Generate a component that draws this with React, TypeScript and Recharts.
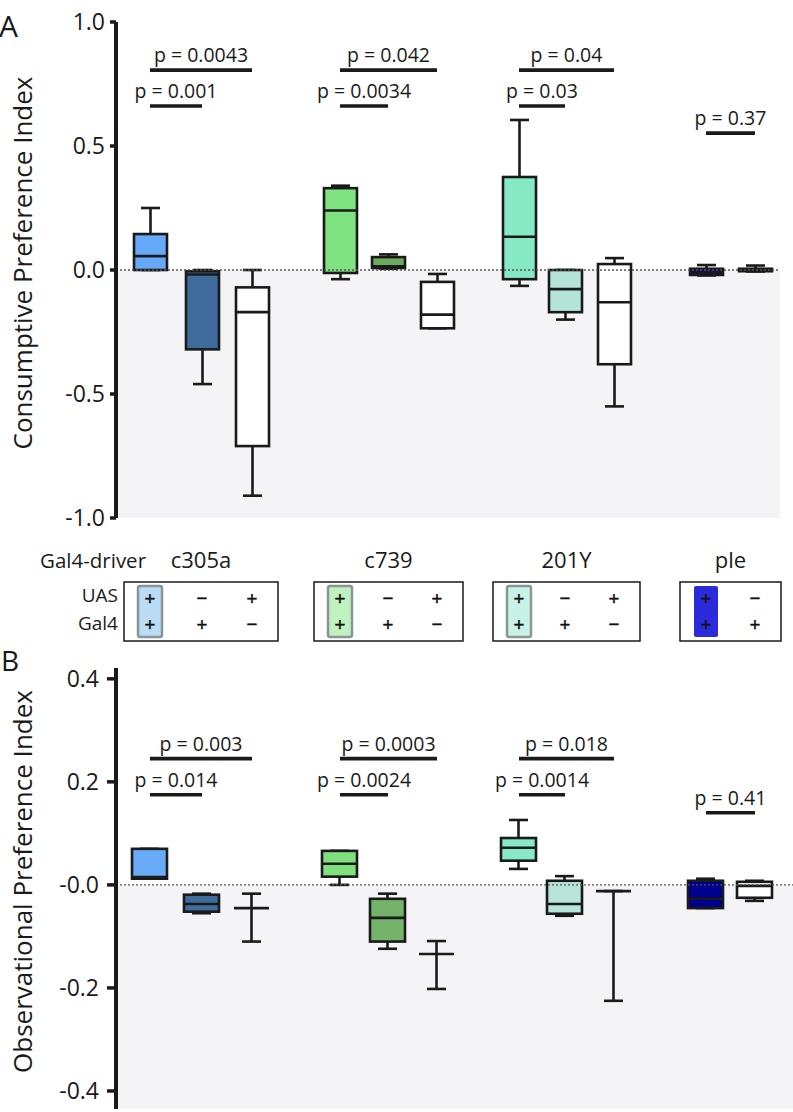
import React from 'react';
import { ComposedChart, Bar, XAxis, YAxis, ReferenceLine, ReferenceArea } from 'recharts';

// ---- categories / layout of genotypes ----
const drivers = ['c305a', 'c739', '201Y', 'ple'];
const boxPositions = [0.68, 1.72, 2.72, 4.48, 5.44, 6.42, 8.06, 8.98, 9.96, 11.8, 12.78];
const boxDriver = [0, 0, 0, 1, 1, 1, 2, 2, 2, 3, 3];
const uasRow = ['+', '−', '+', '+', '−', '+', '+', '−', '+', '+', '−'];
const gal4Row = ['+', '+', '−', '+', '+', '−', '+', '+', '−', '+', '+'];
const highlightFill = ['#bcdcf6', '#bff2bf', '#c8f2e5', '#2b2bdc'];

// ---- Panel A: Consumptive Preference Index ----
const consumptiveMin = [0.0, -0.46, -0.91, -0.037, 0.005, -0.235, -0.064, -0.2, -0.55, -0.022, -0.006];
const consumptiveQ1 = [0.0, -0.32, -0.71, -0.012, 0.008, -0.235, -0.037, -0.17, -0.38, -0.02, -0.005];
const consumptiveMedian = [0.056, -0.018, -0.17, 0.24, 0.015, -0.18, 0.134, -0.077, -0.13, -0.01, 0.0];
const consumptiveQ3 = [0.145, -0.005, -0.07, 0.33, 0.052, -0.048, 0.375, 0.0, 0.024, 0.005, 0.005];
const consumptiveMax = [0.25, 0.0, 0.0, 0.34, 0.063, -0.016, 0.605, 0.0, 0.048, 0.02, 0.018];
const consumptiveFill = ['#66a9f8', '#3e6b9c', '#ffffff', '#7fe37f', '#6dab5e', '#ffffff', '#86e9c6', '#b5e5d7', '#ffffff', '#0a0a8c', '#ffffff'];
const consumptiveTicks = [-1, -0.5, 0, 0.5, 1];
const consumptiveSig = [
  { from: 0, to: 2, level: 0.806, label: 'p = 0.0043' },
  { from: 0, to: 1, level: 0.661, label: 'p = 0.001' },
  { from: 3, to: 5, level: 0.806, label: 'p = 0.042' },
  { from: 3, to: 4, level: 0.661, label: 'p = 0.0034' },
  { from: 6, to: 8, level: 0.806, label: 'p = 0.04' },
  { from: 6, to: 7, level: 0.661, label: 'p = 0.03' },
  { from: 9, to: 10, level: 0.552, label: 'p = 0.37' },
];

// ---- Panel B: Observational Preference Index ----
const observationalMin = [0.012, -0.055, -0.11, 0.0, -0.124, -0.202, 0.031, -0.06, -0.225, -0.045, -0.031];
const observationalQ1 = [0.012, -0.052, -0.045, 0.016, -0.11, -0.134, 0.047, -0.056, -0.012, -0.045, -0.025];
const observationalMedian = [0.015, -0.037, -0.045, 0.041, -0.064, -0.134, 0.072, -0.037, -0.012, -0.027, -0.002];
const observationalQ3 = [0.07, -0.019, -0.045, 0.066, -0.027, -0.134, 0.091, 0.008, -0.012, 0.008, 0.006];
const observationalMax = [0.07, -0.017, -0.017, 0.066, -0.017, -0.109, 0.126, 0.017, -0.012, 0.012, 0.008];
const observationalFill = ['#6aabf7', '#3f6c9d', '#ffffff', '#80e080', '#76b36a', '#ffffff', '#87e9c7', '#b7e5d7', '#ffffff', '#00008f', '#ffffff'];
const observationalTicks = [-0.4, -0.2, 0, 0.2, 0.4];
const observationalSig = [
  { from: 0, to: 2, level: 0.245, label: 'p = 0.003' },
  { from: 0, to: 1, level: 0.175, label: 'p = 0.014' },
  { from: 3, to: 5, level: 0.245, label: 'p = 0.0003' },
  { from: 3, to: 4, level: 0.175, label: 'p = 0.0024' },
  { from: 6, to: 8, level: 0.245, label: 'p = 0.018' },
  { from: 6, to: 7, level: 0.175, label: 'p = 0.0014' },
  { from: 9, to: 10, level: 0.14, label: 'p = 0.41' },
];

const FONT = '"Open Sans", Lato, sans-serif';
const INK = '#1a1a1a';

const buildRows = (mins: number[], q1s: number[], meds: number[], q3s: number[], maxs: number[], fills: string[]) =>
  boxPositions.map((pos, i) => ({
    pos,
    range: [mins[i], maxs[i]],
    min: mins[i],
    q1: q1s[i],
    med: meds[i],
    q3: q3s[i],
    max: maxs[i],
    fill: fills[i],
  }));

const rowsA = buildRows(consumptiveMin, consumptiveQ1, consumptiveMedian, consumptiveQ3, consumptiveMax, consumptiveFill);
const rowsB = buildRows(observationalMin, observationalQ1, observationalMedian, observationalQ3, observationalMax, observationalFill);

const BoxGlyph = (props: any) => {
  const { x, y, width, height, payload, boxW, capW } = props;
  if (!payload) return null;
  const { min, max, q1, q3, med, fill } = payload;
  const top = Math.min(y, y + height);
  const bottom = Math.max(y, y + height);
  const px = (v: number) => bottom - ((v - min) / (max - min)) * (bottom - top);
  const cx = x + width / 2;
  const sw = 2.6;
  const collapsed = Math.abs(q3 - q1) < 1e-9;
  return (
    <g>
      <line x1={cx} x2={cx} y1={px(max)} y2={px(min)} stroke={INK} strokeWidth={sw} />
      <line x1={cx - capW / 2} x2={cx + capW / 2} y1={px(max)} y2={px(max)} stroke={INK} strokeWidth={sw} />
      <line x1={cx - capW / 2} x2={cx + capW / 2} y1={px(min)} y2={px(min)} stroke={INK} strokeWidth={sw} />
      {!collapsed && (
        <rect x={cx - boxW / 2} y={px(q3)} width={boxW} height={px(q1) - px(q3)} fill={fill} stroke={INK} strokeWidth={sw} />
      )}
      <line x1={cx - boxW / 2} x2={cx + boxW / 2} y1={px(med)} y2={px(med)} stroke={INK} strokeWidth={sw} />
    </g>
  );
};

const AxisTitle = (props: any) => {
  const { viewBox, text } = props;
  const cy = viewBox.y + viewBox.height / 2 - 7;
  return (
    <text transform={`translate(32, ${cy}) rotate(-90)`} textAnchor="middle" fontSize={26} fontFamily={FONT} fill={INK}>
      {text}
    </text>
  );
};

const SigLabel = (props: any) => {
  const { viewBox, text } = props;
  if (!viewBox) return null;
  const x1 = viewBox.x ?? viewBox.x1;
  const w = viewBox.width ?? (viewBox.x2 - viewBox.x1);
  const yy = viewBox.y ?? viewBox.y1;
  return (
    <text x={x1 + w / 2} y={yy - 8} textAnchor="middle" fontSize={19.5} fontFamily={FONT} fill={INK}>
      {text}
    </text>
  );
};

type PanelProps = {
  rows: any[];
  domain: [number, number];
  xMax: number;
  ticks: number[];
  sig: { from: number; to: number; level: number; label: string }[];
  title: string;
  height: number;
  margin: { top: number; right: number; bottom: number; left: number };
  boxW: number;
  tickSize: number;
  tickMargin: number;
  zeroLabel: string;
};

const Panel = (p: PanelProps) => (
  <ComposedChart width={793} height={p.height} data={p.rows} margin={p.margin}>
    <XAxis
      type="number"
      dataKey="pos"
      domain={[0, p.xMax]}
      allowDataOverflow
      tick={false}
      tickLine={false}
      height={0}
      axisLine={{ stroke: INK, strokeWidth: 4 }}
    />
    <YAxis
      type="number"
      domain={p.domain}
      allowDataOverflow
      ticks={p.ticks}
      interval={0}
      width={116}
      tickSize={p.tickSize}
      tickMargin={p.tickMargin}
      tickFormatter={(v: number) => (Math.abs(v) < 1e-9 ? p.zeroLabel : v.toFixed(1))}
      tick={{ fontSize: 23, fill: INK, fontFamily: FONT }}
      tickLine={{ stroke: INK, strokeWidth: 3.5 }}
      axisLine={{ stroke: INK, strokeWidth: 4 }}
      label={<AxisTitle text={p.title} />}
    />
    <ReferenceArea y1={p.domain[0]} y2={0} fill="#f4f4f7" fillOpacity={1} stroke="none" />
    <ReferenceLine y={0} stroke="#555" strokeDasharray="2 2" strokeWidth={1.3} />
    <Bar
      dataKey="range"
      barSize={p.boxW}
      isAnimationActive={false}
      shape={(sp: any) => <BoxGlyph {...sp} boxW={p.boxW} capW={19} />}
    />
    {p.sig.map((s, i) => (
      <ReferenceLine
        key={i}
        segment={[
          { x: boxPositions[s.from], y: s.level },
          { x: boxPositions[s.to], y: s.level },
        ]}
        stroke={INK}
        strokeWidth={3.6}
        label={<SigLabel text={s.label} />}
      />
    ))}
  </ComposedChart>
);

const colX = (pos: number) => 116 + pos * 50;

const GenotypeTable = () => (
  <svg width={793} height={1112} style={{ position: 'absolute', left: 0, top: 0, pointerEvents: 'none' }}>
    <text x={-1} y={37} fontSize={30} fontFamily={FONT} fill={INK}>A</text>
    <text x={1} y={671} fontSize={28} fontFamily={FONT} fill={INK}>B</text>
    <text x={40} y={568} fontSize={20.5} fontFamily={FONT} fill={INK}>Gal4-driver</text>
    <text x={118} y={602} fontSize={19} fontFamily={FONT} fill={INK} textAnchor="end">UAS</text>
    <text x={118} y={630} fontSize={19} fontFamily={FONT} fill={INK} textAnchor="end">Gal4</text>
    {drivers.map((d, g) => {
      const idx = boxPositions.map((_, i) => i).filter((i) => boxDriver[i] === g);
      const left = colX(boxPositions[idx[0]]) - 26;
      const right = colX(boxPositions[idx[idx.length - 1]]) + 26;
      const fx = colX(boxPositions[idx[0]]);
      return (
        <g key={d}>
          <text x={(left + right) / 2} y={568} fontSize={22} fontFamily={FONT} fill={INK} textAnchor="middle">{d}</text>
          <rect x={left} y={582} width={right - left} height={59} fill="#fff" stroke={INK} strokeWidth={1.5} />
          <rect
            x={fx - 12}
            y={586}
            width={24}
            height={51}
            rx={2}
            fill={highlightFill[g]}
            stroke={g === 3 ? 'none' : '#8a9696'}
            strokeWidth={2.5}
          />
          {idx.map((i) => (
            <g key={i}>
              <text x={colX(boxPositions[i])} y={605} fontSize={19} fontFamily={FONT} fill="#111" stroke="#111" strokeWidth={0.5} textAnchor="middle">{uasRow[i]}</text>
              <text x={colX(boxPositions[i])} y={631} fontSize={19} fontFamily={FONT} fill="#111" stroke="#111" strokeWidth={0.5} textAnchor="middle">{gal4Row[i]}</text>
            </g>
          ))}
        </g>
      );
    })}
  </svg>
);

export default function App() {
  return (
    <div style={{ position: 'absolute', left: 0, top: 0, width: 793, height: 1112, background: '#fff', overflow: 'hidden' }}>
      <div style={{ position: 'absolute', left: 0, top: 0 }}>
        <Panel
          rows={rowsA}
          domain={[-1, 1]}
          xMax={13.28}
          ticks={consumptiveTicks}
          sig={consumptiveSig}
          title="Consumptive Preference Index"
          height={650}
          margin={{ top: 22, right: 13, bottom: 132, left: 0 }}
          boxW={33}
          tickSize={6}
          tickMargin={5}
          zeroLabel="0.0"
        />
      </div>
      <div style={{ position: 'absolute', left: 0, top: 650 }}>
        <Panel
          rows={rowsB}
          domain={[-0.435, 0.421]}
          xMax={13.54}
          ticks={observationalTicks}
          sig={observationalSig}
          title="Observational Preference Index"
          height={462}
          margin={{ top: 18, right: 0, bottom: 3, left: 0 }}
          boxW={35}
          tickSize={9}
          tickMargin={8}
          zeroLabel="-0.0"
        />
      </div>
      <GenotypeTable />
    </div>
  );
}
